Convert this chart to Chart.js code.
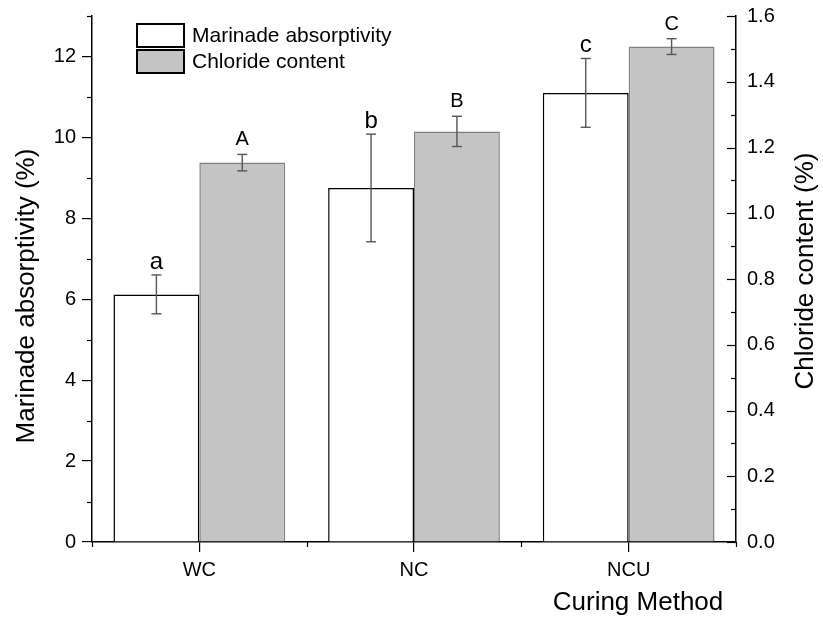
<!DOCTYPE html>
<html>
<head>
<meta charset="utf-8">
<script src="https://cdn.jsdelivr.net/npm/chart.js@4.4.1/dist/chart.umd.min.js"></script>
<style>
  body { margin: 0; background: #fff; }
  #wrap { width: 823px; height: 622px; }
</style>
</head>
<body>
<div id="wrap"><canvas id="chart"></canvas></div>
<script>
const methods = ['WC', 'NC', 'NCU'];
const absorptivity = [6.12, 8.75, 11.10];
const absorptivityErr = [0.48, 1.33, 0.85];
const chloride = [1.154, 1.249, 1.507];
const chlorideErr = [0.025, 0.046, 0.024];
const lowerLetters = ['a', 'b', 'c'];
const upperLetters = ['A', 'B', 'C'];
const leftMinor = [1, 3, 5, 7, 9, 11, 13];
const rightMinor = [0.1, 0.3, 0.5, 0.7, 0.9, 1.1, 1.3, 1.5];
const rightMajor = [0, 0.2, 0.4, 0.6, 0.8, 1.0, 1.2, 1.4, 1.6];

const FONT = '"Liberation Sans", Arial, sans-serif';
Chart.defaults.font.family = FONT;
Chart.defaults.color = '#000';

const canvas = document.getElementById('chart');

function line(ctx, x1, y1, x2, y2) {
  ctx.beginPath();
  ctx.moveTo(x1, y1);
  ctx.lineTo(x2, y2);
  ctx.stroke();
}

// error bars, letters, minor ticks, legend and axis titles
const extras = {
  id: 'extras',
  afterDatasetsDraw(chart) {
    const ctx = chart.ctx;
    const sets = [
      { meta: chart.getDatasetMeta(0), scale: chart.scales.y, vals: absorptivity, errs: absorptivityErr, letters: lowerLetters, font: '24px ' + FONT, gap: 6 },
      { meta: chart.getDatasetMeta(1), scale: chart.scales.y1, vals: chloride, errs: chlorideErr, letters: upperLetters, font: '20px ' + FONT, gap: 9 }
    ];
    ctx.save();
    sets.forEach(s => {
      s.meta.data.forEach((bar, i) => {
        const top = s.scale.getPixelForValue(s.vals[i] + s.errs[i]);
        const bot = s.scale.getPixelForValue(s.vals[i] - s.errs[i]);
        ctx.strokeStyle = '#555';
        ctx.lineWidth = 1.4;
        line(ctx, bar.x, top, bar.x, bot);
        line(ctx, bar.x - 5, top, bar.x + 5, top);
        line(ctx, bar.x - 5, bot, bar.x + 5, bot);
        ctx.fillStyle = '#000';
        ctx.font = s.font;
        ctx.textAlign = 'center';
        ctx.textBaseline = 'alphabetic';
        ctx.fillText(s.letters[i], bar.x, top - s.gap);
      });
    });
    ctx.restore();
  },
  afterDraw(chart) {
    const ctx = chart.ctx;
    const x = chart.scales.x, y = chart.scales.y, y1 = chart.scales.y1;
    const area = chart.chartArea;
    ctx.save();
    ctx.strokeStyle = '#000';
    ctx.lineWidth = 1.2;
    // left minor ticks
    leftMinor.forEach(v => {
      const py = Math.round(y.getPixelForValue(v)) + 0.5;
      line(ctx, area.left - 5, py, area.left, py);
    });
    // right ticks point inward
    rightMajor.forEach(v => {
      const py = Math.round(y1.getPixelForValue(v)) + 0.5;
      line(ctx, area.right - 9, py, area.right, py);
    });
    rightMinor.forEach(v => {
      const py = Math.round(y1.getPixelForValue(v)) + 0.5;
      line(ctx, area.right - 5, py, area.right, py);
    });
    // short ticks at category boundaries
    const half = (x.getPixelForValue(1) - x.getPixelForValue(0)) / 2;
    for (let i = 0; i <= methods.length; i++) {
      const px = Math.round(x.getPixelForValue(0) - half + i * 2 * half) + 0.5;
      line(ctx, px, area.bottom, px, area.bottom + 5);
    }

    // legend
    const dsets = chart.data.datasets;
    ctx.font = '21px ' + FONT;
    ctx.textAlign = 'left';
    ctx.textBaseline = 'middle';
    dsets.forEach((d, i) => {
      const bx = 137, by = 24 + i * 26;
      ctx.fillStyle = d.backgroundColor;
      ctx.fillRect(bx, by, 47, 23);
      ctx.strokeStyle = '#000';
      ctx.lineWidth = 2;
      ctx.strokeRect(bx, by, 47, 23);
      ctx.fillStyle = '#000';
      ctx.fillText(d.label, 192, by + 12);
    });

    // axis titles
    ctx.font = '26px ' + FONT;
    ctx.textAlign = 'center';
    ctx.textBaseline = 'middle';
    ctx.fillText('Curing Method', 638, 603);
    ctx.save();
    ctx.translate(27, 296);
    ctx.rotate(-Math.PI / 2);
    ctx.fillText('Marinade absorptivity (%)', 0, 0);
    ctx.restore();
    ctx.save();
    ctx.translate(806, 271);
    ctx.rotate(-Math.PI / 2);
    ctx.fillText('Chloride content (%)', 0, 0);
    ctx.restore();
    ctx.restore();
  }
};

new Chart(canvas, {
  type: 'bar',
  data: {
    labels: methods,
    datasets: [
      {
        label: 'Marinade absorptivity',
        data: absorptivity,
        yAxisID: 'y',
        backgroundColor: '#ffffff',
        borderColor: '#000000',
        borderWidth: 1.5,
        borderSkipped: 'bottom'
      },
      {
        label: 'Chloride content',
        data: chloride,
        yAxisID: 'y1',
        backgroundColor: '#c4c4c4',
        borderColor: '#808080',
        borderWidth: 1.5,
        borderSkipped: 'bottom'
      }
    ]
  },
  options: {
    responsive: true,
    maintainAspectRatio: false,
    animation: false,
    devicePixelRatio: 1,
    layout: { padding: { top: 16, left: 0, right: 0, bottom: 0 } },
    plugins: {
      legend: { display: false },
      tooltip: { enabled: false }
    },
    datasets: {
      bar: { categoryPercentage: 0.8, barPercentage: 1.0 }
    },
    scales: {
      x: {
        offset: true,
        grid: { offset: false, drawOnChartArea: false, drawTicks: true, tickLength: 10, color: '#000', lineWidth: 1.2 },
        border: { display: true, color: '#000', width: 1.5 },
        ticks: { font: { size: 20 }, padding: 6, color: '#000' },
        afterFit(scale) { scale.height = 80; }
      },
      y: {
        position: 'left',
        min: 0,
        max: 13,
        grid: { drawOnChartArea: false, drawTicks: true, tickLength: 10, color: '#000', lineWidth: 1.2 },
        border: { display: true, color: '#000', width: 1.5 },
        ticks: { stepSize: 2, includeBounds: false, font: { size: 20 }, padding: 6, color: '#000' },
        afterFit(scale) { scale.width = 92; scale.paddingTop = 0; scale.paddingBottom = 0; }
      },
      y1: {
        position: 'right',
        min: 0,
        max: 1.6,
        grid: { drawOnChartArea: false, drawTicks: false },
        border: { display: true, color: '#000', width: 1.5 },
        ticks: {
          stepSize: 0.2,
          font: { size: 20 },
          padding: 11,
          color: '#000',
          callback: v => v.toFixed(1)
        },
        afterFit(scale) { scale.width = 87; scale.paddingTop = 0; scale.paddingBottom = 0; }
      }
    }
  },
  plugins: [extras]
});
</script>
</body>
</html>
